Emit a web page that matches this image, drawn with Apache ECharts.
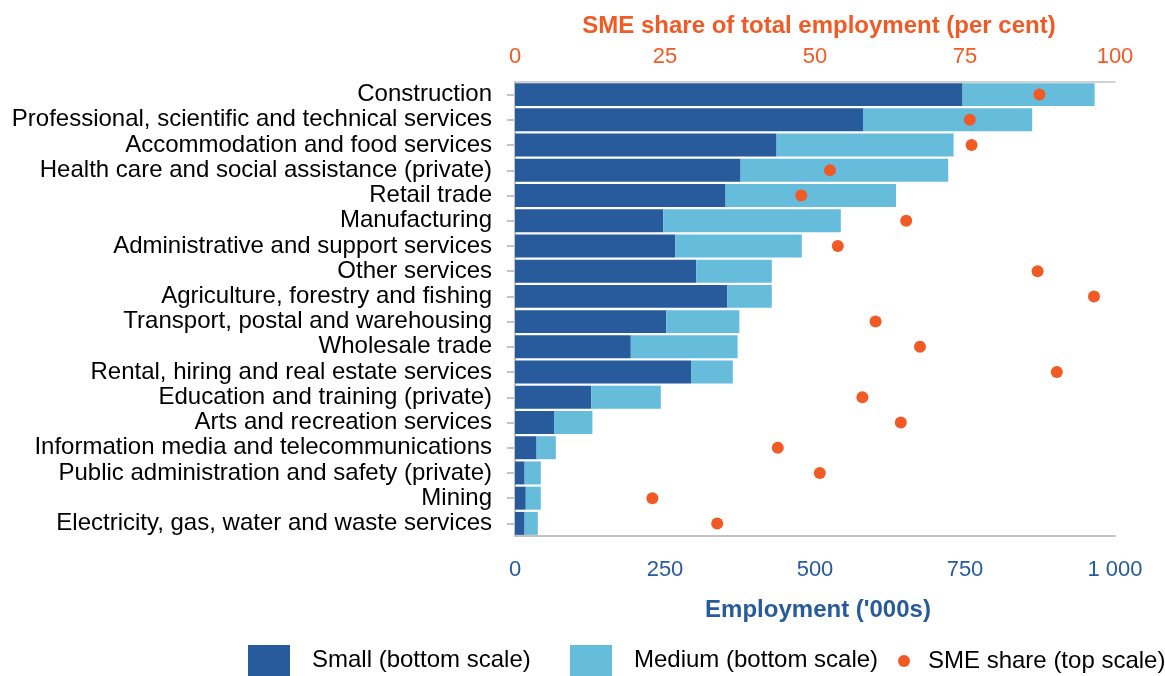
<!DOCTYPE html>
<html>
<head>
<meta charset="utf-8">
<title>SME employment by industry</title>
<script src="https://cdn.jsdelivr.net/npm/echarts@6/dist/echarts.min.js"></script>
<style>
  html, body { margin: 0; padding: 0; background: #fff; }
  #chart { width: 1165px; height: 676px; }
</style>
</head>
<body>
<div id="chart"></div>
<script>
// 行业（从上到下）
var industries = [
  'Construction',
  'Professional, scientific and technical services',
  'Accommodation and food services',
  'Health care and social assistance (private)',
  'Retail trade',
  'Manufacturing',
  'Administrative and support services',
  'Other services',
  'Agriculture, forestry and fishing',
  'Transport, postal and warehousing',
  'Wholesale trade',
  'Rental, hiring and real estate services',
  'Education and training (private)',
  'Arts and recreation services',
  'Information media and telecommunications',
  'Public administration and safety (private)',
  'Mining',
  'Electricity, gas, water and waste services'
]

// employment, '000s (bottom scale)
var smallEmp = [746, 580, 436, 376, 351, 247, 267, 302, 354, 252, 193, 294, 127, 65, 36, 16, 18, 16]
var mediumEmp = [220, 282, 295, 346, 284, 296, 211, 126, 74, 122, 178, 69, 116, 64, 32, 27, 25, 22]

// SME share of total employment, per cent (top scale)
var smeShare = [87.4, 75.8, 76.1, 52.5, 47.7, 65.2, 53.8, 87.1, 96.5, 60.1, 67.5, 90.3, 57.9, 64.3, 43.8, 50.8, 22.9, 33.7]

var darkBlue = '#275B9B'
var lightBlue = '#65BCDB'
var orange = '#F15A24'
var grey = '#C3C3C3'
var font = "'Liberation Sans', Arial, sans-serif"

var chart = echarts.init(document.getElementById('chart'))

var legendText = { fontSize: 24, color: '#000', fontFamily: font, padding: [0, 0, 0, 17] }

var option = {
  animation: false,
  textStyle: { fontFamily: font },
  grid: { left: 515, right: 50, top: 82, bottom: 140, containLabel: false },
  legend: [
    {
      data: [{ name: 'Small (bottom scale)', icon: 'rect' }],
      left: 248, top: 645, padding: 0,
      itemWidth: 42, itemHeight: 31,
      textStyle: legendText
    },
    {
      data: [{ name: 'Medium (bottom scale)', icon: 'rect' }],
      left: 570, top: 645, padding: 0,
      itemWidth: 42, itemHeight: 31,
      textStyle: legendText
    },
    {
      data: [{ name: 'SME share (top scale)', icon: 'circle' }],
      left: 898, top: 649, padding: 0,
      itemWidth: 12, itemHeight: 12,
      textStyle: { fontSize: 24, color: '#000', fontFamily: font, padding: [0, 0, 0, 13] }
    }
  ],
  xAxis: [
    {
      // bottom scale
      type: 'value',
      position: 'bottom',
      min: 0, max: 1000, interval: 250,
      name: "Employment ('000s)",
      nameLocation: 'middle',
      nameGap: 62,
      nameTextStyle: { color: darkBlue, fontSize: 24, fontWeight: 'bold', fontFamily: font, padding: [0, 0, 0, 6] },
      axisLine: { show: true, lineStyle: { color: grey, width: 2 } },
      axisTick: { show: false },
      splitLine: { show: false },
      axisLabel: {
        color: darkBlue, fontSize: 22, margin: 23, fontFamily: font,
        formatter: function (v) {
          // 千位用空格分隔：1000 -> 1 000
          return String(v).replace(/\B(?=(\d{3})+(?!\d))/g, ' ')
        }
      }
    },
    {
      // top scale
      type: 'value',
      position: 'top',
      min: 0, max: 100, interval: 25,
      name: 'SME share of total employment (per cent)',
      nameLocation: 'middle',
      nameGap: 44,
      nameTextStyle: { color: orange, fontSize: 24, fontWeight: 'bold', fontFamily: font, padding: [0, 0, 0, 8] },
      axisLine: { show: true, lineStyle: { color: grey, width: 1.5 } },
      axisTick: { show: false },
      splitLine: { show: false },
      axisLabel: { color: orange, fontSize: 22, margin: 14, fontFamily: font }
    }
  ],
  yAxis: {
    type: 'category',
    inverse: true,
    data: industries,
    axisLine: { show: true, lineStyle: { color: grey, width: 2 } },
    axisTick: { show: true, alignWithLabel: true, interval: 0, length: 8, lineStyle: { color: grey, width: 2 } },
    axisLabel: { color: '#000', fontSize: 24, margin: 23, interval: 0, fontFamily: font }
  },
  series: [
    {
      name: 'Small (bottom scale)',
      type: 'bar',
      stack: 'emp',
      xAxisIndex: 0,
      barCategoryGap: '9%',
      itemStyle: { color: darkBlue },
      data: smallEmp
    },
    {
      name: 'Medium (bottom scale)',
      type: 'bar',
      stack: 'emp',
      xAxisIndex: 0,
      barCategoryGap: '9%',
      itemStyle: { color: lightBlue },
      data: mediumEmp
    },
    {
      name: 'SME share (top scale)',
      type: 'scatter',
      xAxisIndex: 1,
      symbol: 'circle',
      symbolSize: 12,
      itemStyle: { color: orange, opacity: 1 },
      z: 5,
      data: smeShare.map(function (v, i) { return [v, industries[i]] })
    }
  ]
}

chart.setOption(option)
</script>
</body>
</html>
